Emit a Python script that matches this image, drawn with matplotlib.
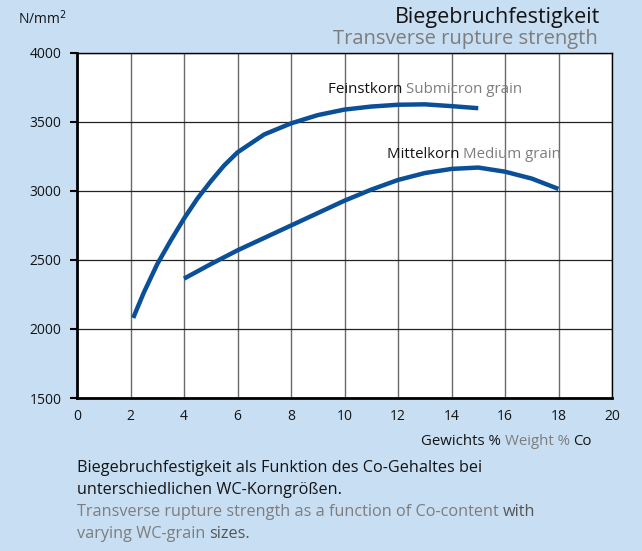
import matplotlib.pyplot as plt

# data
co_fein = [2.1, 2.5, 3, 3.5, 4, 4.5, 5, 5.5, 6, 7, 8, 9, 10, 11, 12, 13, 14, 15]
trs_fein = [2080, 2265, 2470, 2640, 2800, 2945, 3070, 3185, 3280, 3410, 3490, 3550, 3590, 3612, 3625, 3628, 3615, 3600]
co_mittel = [4, 5, 6, 7, 8, 9, 10, 11, 12, 13, 14, 15, 16, 17, 18]
trs_mittel = [2365, 2470, 2570, 2660, 2750, 2840, 2930, 3010, 3080, 3130, 3160, 3170, 3140, 3090, 3015]
xticks = [0, 2, 4, 6, 8, 10, 12, 14, 16, 18, 20]
yticks = [1500, 2000, 2500, 3000, 3500, 4000]

bg = '#c7def3'
blue = '#0a4f97'
dark = '#141414'
grey = '#7d7d7d'
plt.rcParams['font.family'] = ['Open Sans', 'DejaVu Sans']

fig = plt.figure(figsize=(6.42, 5.51), dpi=100, facecolor=bg)
ax = fig.add_axes([77 / 642, 1 - 398 / 551, 535 / 642, 345 / 551])
ax.set_facecolor('white')

ax.plot(co_fein, trs_fein, color=blue, lw=3.2, solid_capstyle='butt', solid_joinstyle='round', zorder=3)
ax.plot(co_mittel, trs_mittel, color=blue, lw=3.2, solid_capstyle='butt', solid_joinstyle='round', zorder=3)

ax.set_xlim(0, 20)
ax.set_ylim(1500, 4000)
ax.set_xticks(xticks)
ax.set_yticks(yticks)
ax.xaxis.grid(True, color='#6a6a6a', lw=1.0)
ax.yaxis.grid(True, color='#222222', lw=0.9)
ax.tick_params(axis='x', length=0, pad=8, labelsize=10, labelcolor=dark)
ax.tick_params(axis='y', length=5, width=1.5, direction='out', pad=6, labelsize=10, labelcolor=dark)
for s in ['left', 'bottom']:
    ax.spines[s].set_linewidth(2)
for s in ['top', 'right']:
    ax.spines[s].set_linewidth(1)


def chain(x, y, parts, size, ha='left'):
    # put several differently coloured strings one after another on one line
    texts = []
    for s, c in parts:
        t = fig.text(x / 642, 1 - y / 551, s, color=c, fontsize=size, va='baseline', ha='left')
        texts.append(t)
    fig.canvas.draw()
    r = fig.canvas.get_renderer()
    widths = [t.get_window_extent(r).width for t in texts]
    total = sum(widths)
    pos = x if ha == 'left' else x - total
    for t, w in zip(texts, widths):
        t.set_position((pos / 642, 1 - y / 551))
        pos += w


fig.text(18 / 642, 1 - 24 / 551, 'N/mm$^2$', fontsize=10, color=dark)
chain(600, 23, [('Biegebruchfestigkeit', dark)], 15.5, ha='right')
chain(598, 44, [('Transverse rupture strength', grey)], 14.5, ha='right')
chain(328, 93, [('Feinstkorn ', dark), ('Submicron grain', grey)], 10.9)
chain(387, 158, [('Mittelkorn ', dark), ('Medium grain', grey)], 10.8)
chain(592, 445, [('Gewichts % ', dark), ('Weight % ', grey), ('Co', dark)], 10.8, ha='right')
chain(77, 472, [('Biegebruchfestigkeit als Funktion des Co-Gehaltes bei', dark)], 11.7)
chain(77, 494, [('unterschiedlichen WC-Korngrößen.', dark)], 11.7)
chain(77, 516, [('Transverse rupture strength as a function of Co-content ', grey), ('with', '#555555')], 11.7)
chain(77, 538, [('varying WC-grain ', grey), ('sizes.', '#555555')], 11.7)

fig.savefig('out.png', dpi=100, facecolor=bg)
